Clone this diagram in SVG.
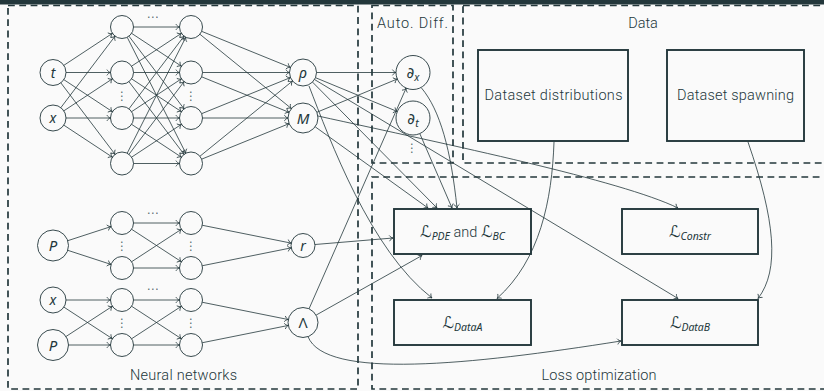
<svg xmlns="http://www.w3.org/2000/svg" width="824" height="391" viewBox="0 0 824 391">
  <defs>
    <!-- thin curved arrowhead, tip at the path end -->
    <marker id="arr" markerUnits="userSpaceOnUse" orient="auto" refX="0" refY="0" markerWidth="8" markerHeight="8" overflow="visible">
      <path d="M-3.6,-2.9 C-2.6,-1.2 -1.2,-0.3 0,0 C-1.2,0.3 -2.6,1.2 -3.6,2.9" fill="none" stroke="#23373b" stroke-width="0.8"/>
    </marker>
  </defs>
  <style>
    .bg { fill: #fafafa; }
    .bar { fill: #23373b; }
    .region { fill: none; stroke: #23373b; stroke-width: 1.7; stroke-dasharray: 6.8 4.5; }
    .nd { fill: none; stroke: #23373b; stroke-width: 0.9; }
    .box { fill: none; stroke: #23373b; stroke-width: 1.9; }
    .e { fill: none; stroke: #23373b; stroke-width: 0.8; marker-end: url(#arr); }
    text { fill: #23373b; font-family: Roboto, "Noto Sans", "DejaVu Sans", sans-serif; }
    .lbl { font-size: 14.5px; font-weight: 300; }
    .m { font-family: "Noto Sans", "DejaVu Sans", sans-serif; font-style: italic; text-anchor: middle; }
    .up { font-family: "Noto Sans", "DejaVu Sans", sans-serif; text-anchor: middle; }
    .dots { font-family: "DejaVu Sans", sans-serif; font-size: 12px; text-anchor: middle; fill: #23373b; fill-opacity: 0.75; }
    .cal { font-family: "DejaVu Sans", "DejaVu Serif", sans-serif; font-style: italic; }
    .sub { font-family: "Noto Sans", "DejaVu Sans", sans-serif; font-style: italic; font-size: 10.5px; }
  </style>

  <rect class="bg" x="0" y="0" width="824" height="391"/>
  <rect class="bar" x="0" y="0" width="824" height="4.5"/>

  <!-- dashed regions -->
  <g id="regions">
    <rect class="region" x="8" y="5.5" width="350" height="383.5"/>
    <rect class="region" x="372" y="5.5" width="81" height="157.5"/>
    <rect class="region" x="463" y="5.5" width="400" height="157.5"/>
    <rect class="region" x="372" y="177" width="500" height="212"/>
    <text class="lbl" x="377" y="28" textLength="71">Auto. Diff.</text>
    <text class="lbl" x="643" y="28" text-anchor="middle">Data</text>
    <text class="lbl" x="183.5" y="380" text-anchor="middle" textLength="107">Neural networks</text>
    <text class="lbl" x="599" y="380" text-anchor="middle" textLength="115">Loss optimization</text>
  </g>

  <!-- connectors -->
  <g id="connectors">
    <!-- top network: inputs to first hidden layer -->
    <line class="e" x1="63.85" y1="65.34" x2="112.40" y2="33.33"/>
    <line class="e" x1="66" y1="72.5" x2="110.5" y2="72.5"/>
    <line class="e" x1="63.85" y1="79.66" x2="112.40" y2="111.67"/>
    <line class="e" x1="60.85" y1="82.86" x2="115.05" y2="154.34"/>
    <line class="e" x1="60.85" y1="107.64" x2="115.05" y2="36.16"/>
    <line class="e" x1="63.85" y1="110.84" x2="112.40" y2="78.83"/>
    <line class="e" x1="66" y1="118" x2="110.5" y2="118"/>
    <line class="e" x1="63.85" y1="125.16" x2="112.40" y2="157.17"/>
    <!-- top network: hidden to hidden -->
    <line class="e" x1="133.5" y1="27" x2="179.5" y2="27"/>
    <line class="e" x1="131.60" y1="33.33" x2="181.40" y2="66.17"/>
    <line class="e" x1="128.95" y1="36.16" x2="184.05" y2="108.84"/>
    <line class="e" x1="127.19" y1="37.26" x2="185.81" y2="153.24"/>
    <line class="e" x1="131.60" y1="66.17" x2="181.40" y2="33.33"/>
    <line class="e" x1="133.5" y1="72.5" x2="179.5" y2="72.5"/>
    <line class="e" x1="131.60" y1="78.83" x2="181.40" y2="111.67"/>
    <line class="e" x1="128.95" y1="81.66" x2="184.05" y2="154.34"/>
    <line class="e" x1="128.95" y1="108.84" x2="184.05" y2="36.16"/>
    <line class="e" x1="131.60" y1="111.67" x2="181.40" y2="78.83"/>
    <line class="e" x1="133.5" y1="118" x2="179.5" y2="118"/>
    <line class="e" x1="131.60" y1="124.33" x2="181.40" y2="157.17"/>
    <line class="e" x1="127.19" y1="153.24" x2="185.81" y2="37.26"/>
    <line class="e" x1="128.95" y1="154.34" x2="184.05" y2="81.66"/>
    <line class="e" x1="131.60" y1="157.17" x2="181.40" y2="124.33"/>
    <line class="e" x1="133.5" y1="163.5" x2="179.5" y2="163.5"/>
    <!-- top network: hidden to outputs -->
    <line class="e" x1="201.65" y1="31.33" x2="290.49" y2="67.42"/>
    <line class="e" x1="199.93" y1="34.25" x2="291.36" y2="108.54"/>
    <line class="e" x1="202.5" y1="72.5" x2="289.5" y2="72.5"/>
    <line class="e" x1="201.65" y1="76.83" x2="289.10" y2="112.35"/>
    <line class="e" x1="201.65" y1="113.67" x2="290.49" y2="77.58"/>
    <line class="e" x1="202.5" y1="118" x2="288" y2="118"/>
    <line class="e" x1="199.93" y1="156.25" x2="292.52" y2="81.01"/>
    <line class="e" x1="201.65" y1="159.17" x2="289.10" y2="123.65"/>

    <!-- r network -->
    <line class="e" x1="67.74" y1="240.70" x2="111.07" y2="226.57"/>
    <line class="e" x1="67.74" y1="250.30" x2="111.07" y2="264.43"/>
    <line class="e" x1="133.5" y1="223" x2="179.5" y2="223"/>
    <line class="e" x1="131.63" y1="229.28" x2="181.37" y2="261.72"/>
    <line class="e" x1="131.63" y1="261.72" x2="181.37" y2="229.28"/>
    <line class="e" x1="133.5" y1="268" x2="179.5" y2="268"/>
    <line class="e" x1="202.27" y1="225.27" x2="291.24" y2="243.14"/>
    <line class="e" x1="202.27" y1="265.73" x2="291.24" y2="247.86"/>

    <!-- Lambda network -->
    <line class="e" x1="66" y1="300" x2="110.5" y2="300"/>
    <line class="e" x1="63.89" y1="307.10" x2="112.37" y2="338.72"/>
    <line class="e" x1="65.98" y1="336.53" x2="112.37" y2="306.28"/>
    <line class="e" x1="68.5" y1="345" x2="110.5" y2="345"/>
    <line class="e" x1="133.5" y1="300" x2="179.5" y2="300"/>
    <line class="e" x1="131.63" y1="306.28" x2="181.37" y2="338.72"/>
    <line class="e" x1="131.63" y1="338.72" x2="181.37" y2="306.28"/>
    <line class="e" x1="133.5" y1="345" x2="179.5" y2="345"/>
    <line class="e" x1="202.27" y1="302.27" x2="288.29" y2="319.54"/>
    <line class="e" x1="202.27" y1="342.73" x2="288.29" y2="325.46"/>

    <!-- outputs to derivatives -->
    <line class="e" x1="316.5" y1="72.5" x2="396" y2="72.5"/>
    <line class="e" x1="316.86" y1="112.27" x2="397.29" y2="79.0"/>
    <line class="e" x1="315.48" y1="77.66" x2="397.29" y2="111.5"/>
    <line class="e" x1="309.04" y1="308.77" x2="406.15" y2="88.06"/>

    <!-- into the PDE/BC loss -->
    <line class="e" x1="312.5" y1="82.1" x2="437" y2="208"/>
    <line class="e" x1="315.2" y1="126.8" x2="428" y2="208"/>
    <line class="e" x1="419.8" y1="133.6" x2="452" y2="208"/>
    <path class="e" d="M421.5,88 C440,110 451,150 457,208"/>
    <line class="e" x1="315" y1="244.5" x2="393" y2="238"/>
    <line class="e" x1="316.1" y1="315.1" x2="422" y2="255.5"/>

    <!-- data and constraint losses -->
    <path class="e" d="M309,86 C330,140 370,250 432,298"/>
    <path class="e" d="M318,116 C450,145 620,180 678,208"/>
    <line class="e" x1="314.5" y1="79.5" x2="678" y2="298.5"/>
    <path class="e" d="M554,142 C552,200 540,260 497,298.5"/>
    <path class="e" d="M748,142 C775,220 780,270 758,298.5"/>
    <path class="e" d="M308,336.6 C325,380 470,365 621,341"/>
  </g>

  <!-- top network nodes -->
  <g id="n-t"><circle class="nd" cx="53" cy="72.5" r="13"/><text class="m" x="53" y="78" font-size="14">t</text></g>
  <g id="n-x"><circle class="nd" cx="53" cy="118" r="13"/><text class="m" x="53" y="123" font-size="14">x</text></g>
  <g id="h1-0"><circle class="nd" cx="122" cy="27" r="11.5"/></g>
  <g id="h1-1"><circle class="nd" cx="122" cy="72.5" r="11.5"/></g>
  <g id="h1-2"><circle class="nd" cx="122" cy="118" r="11.5"/></g>
  <g id="h1-3"><circle class="nd" cx="122" cy="163.5" r="11.5"/></g>
  <g id="h2-0"><circle class="nd" cx="191" cy="27" r="11.5"/></g>
  <g id="h2-1"><circle class="nd" cx="191" cy="72.5" r="11.5"/></g>
  <g id="h2-2"><circle class="nd" cx="191" cy="118" r="11.5"/></g>
  <g id="h2-3"><circle class="nd" cx="191" cy="163.5" r="11.5"/></g>
  <g id="n-rho"><circle class="nd" cx="303" cy="72.5" r="13.5"/><text class="m" x="303" y="77.5" font-size="15">ρ</text></g>
  <g id="n-M"><circle class="nd" cx="303" cy="118" r="15"/><text class="m" x="303" y="123.5" font-size="15">M</text></g>
  <g id="n-dx"><circle class="nd" cx="413" cy="72.5" r="17"/><text class="m" x="413" y="78" font-size="15">∂<tspan class="sub" dy="3">x</tspan></text></g>
  <g id="n-dt"><circle class="nd" cx="413" cy="118" r="17"/><text class="m" x="413" y="123.5" font-size="15">∂<tspan class="sub" dy="3">t</tspan></text></g>
  <g id="top-dots">
    <text class="dots" x="152.5" y="21">⋯</text>
    <text class="dots" x="122" y="100">⋮</text>
    <text class="dots" x="191" y="100">⋮</text>
    <text class="dots" x="412" y="152">⋮</text>
  </g>

  <!-- r network nodes -->
  <g id="n-P1"><circle class="nd" cx="53" cy="245.5" r="15.5"/><text class="m" x="53" y="251" font-size="15">P</text></g>
  <g id="a1-0"><circle class="nd" cx="122" cy="223" r="11.5"/></g>
  <g id="a1-1"><circle class="nd" cx="122" cy="268" r="11.5"/></g>
  <g id="a2-0"><circle class="nd" cx="191" cy="223" r="11.5"/></g>
  <g id="a2-1"><circle class="nd" cx="191" cy="268" r="11.5"/></g>
  <g id="n-r"><circle class="nd" cx="303" cy="245.5" r="12"/><text class="m" x="303" y="250.5" font-size="14">r</text></g>

  <!-- Lambda network nodes -->
  <g id="n-x2"><circle class="nd" cx="53" cy="300" r="13"/><text class="m" x="53" y="305" font-size="14">x</text></g>
  <g id="n-P2"><circle class="nd" cx="53" cy="345" r="15.5"/><text class="m" x="53" y="350.5" font-size="15">P</text></g>
  <g id="b1-0"><circle class="nd" cx="122" cy="300" r="11.5"/></g>
  <g id="b1-1"><circle class="nd" cx="122" cy="345" r="11.5"/></g>
  <g id="b2-0"><circle class="nd" cx="191" cy="300" r="11.5"/></g>
  <g id="b2-1"><circle class="nd" cx="191" cy="345" r="11.5"/></g>
  <g id="n-Lambda"><circle class="nd" cx="303" cy="322.5" r="15"/><text class="up" x="303" y="328" font-size="15">Λ</text></g>
  <g id="bottom-dots">
    <text class="dots" x="152.5" y="217">⋯</text>
    <text class="dots" x="122" y="250">⋮</text>
    <text class="dots" x="191" y="250">⋮</text>
    <text class="dots" x="152.5" y="293">⋯</text>
    <text class="dots" x="122" y="327">⋮</text>
    <text class="dots" x="191" y="327">⋮</text>
  </g>

  <!-- data sources -->
  <g id="dataset-distributions">
    <rect class="box" x="478" y="50" width="150" height="91"/>
    <text class="lbl" x="553.5" y="100" text-anchor="middle" textLength="138">Dataset distributions</text>
  </g>
  <g id="dataset-spawning">
    <rect class="box" x="667" y="50" width="137" height="91"/>
    <text class="lbl" x="735.5" y="100" text-anchor="middle" textLength="117">Dataset spawning</text>
  </g>

  <!-- loss terms -->
  <g id="loss-pde-bc">
    <rect class="box" x="394" y="209" width="137" height="45"/>
    <text x="462.5" y="237" text-anchor="middle" font-size="16"><tspan class="cal">ℒ</tspan><tspan class="sub" dy="3">PDE</tspan><tspan dy="-3" class="lbl"> and </tspan><tspan class="cal">ℒ</tspan><tspan class="sub" dy="3">BC</tspan></text>
  </g>
  <g id="loss-data-a">
    <rect class="box" x="394" y="300" width="137" height="45"/>
    <text x="462.5" y="328" text-anchor="middle" font-size="16"><tspan class="cal">ℒ</tspan><tspan class="sub" dy="3">DataA</tspan></text>
  </g>
  <g id="loss-constr">
    <rect class="box" x="622" y="209" width="136" height="45"/>
    <text x="690" y="237" text-anchor="middle" font-size="16"><tspan class="cal">ℒ</tspan><tspan class="sub" dy="3">Constr</tspan></text>
  </g>
  <g id="loss-data-b">
    <rect class="box" x="622" y="300" width="136" height="45"/>
    <text x="690" y="328" text-anchor="middle" font-size="16"><tspan class="cal">ℒ</tspan><tspan class="sub" dy="3">DataB</tspan></text>
  </g>
</svg>
